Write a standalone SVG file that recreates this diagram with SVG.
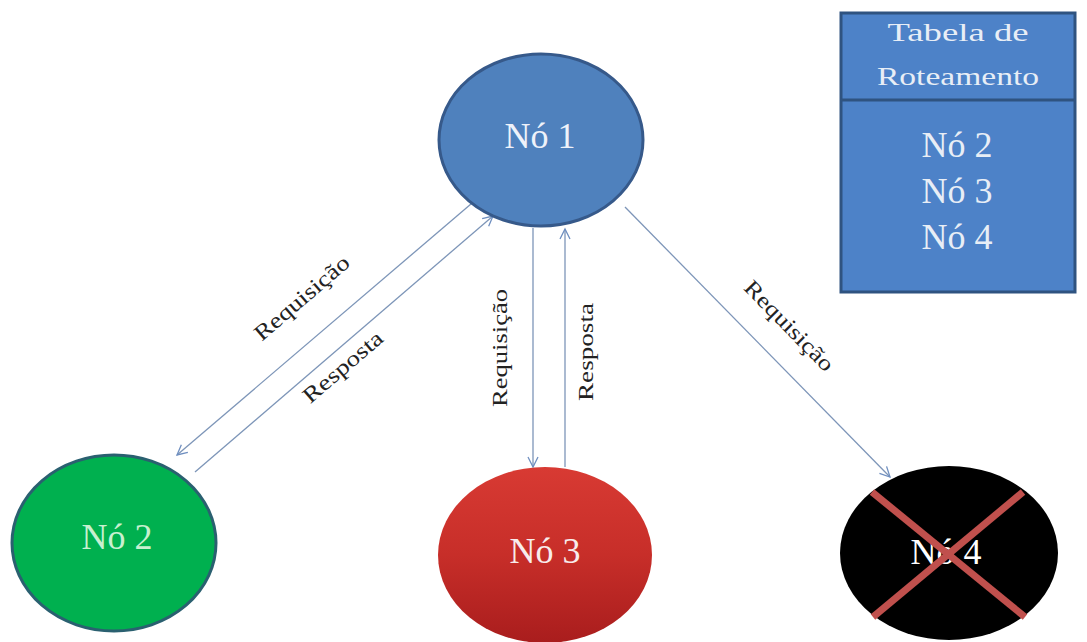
<svg xmlns="http://www.w3.org/2000/svg" width="1087" height="642" viewBox="0 0 1087 642">
<defs>
<style>
.lbl{font-family:"Liberation Serif",serif;font-size:22px;fill:#222;text-anchor:middle}
.nt{font-family:"Liberation Serif",serif;font-size:36px;text-anchor:middle}
.tt{font-family:"Liberation Serif",serif;font-size:25px;fill:#e8eef6;text-anchor:middle}
.conn{stroke:#7d95b8;stroke-width:1.3;fill:none;marker-end:url(#arr)}
</style>
<marker id="arr" markerUnits="userSpaceOnUse" markerWidth="14" markerHeight="14" refX="11" refY="6" orient="auto">
<path d="M1,1 L11,6 L1,11" fill="none" stroke="#6f8fc0" stroke-width="1.3"/>
</marker>
<linearGradient id="red" x1="0" y1="0" x2="0" y2="1">
<stop offset="0" stop-color="#d83a33"/>
<stop offset="0.5" stop-color="#c72e29"/>
<stop offset="1" stop-color="#a91d1d"/>
</linearGradient>
</defs>
<rect width="1087" height="642" fill="#ffffff"/>

<g id="connectors">
<line class="conn" x1="478" y1="198" x2="177" y2="455"/>
<line class="conn" x1="195" y1="472" x2="493" y2="216"/>
<line class="conn" x1="533" y1="228" x2="533" y2="467"/>
<line class="conn" x1="565" y1="467" x2="565" y2="229"/>
<line class="conn" x1="625" y1="207" x2="890" y2="477"/>
<text class="lbl" transform="translate(302,298) rotate(-40.6)" y="7" textLength="118" lengthAdjust="spacingAndGlyphs">Requisição</text>
<text class="lbl" transform="translate(343,367) rotate(-40.6)" y="7" textLength="98" lengthAdjust="spacingAndGlyphs">Resposta</text>
<text class="lbl" transform="translate(499,348) rotate(-90)" y="8" textLength="118" lengthAdjust="spacingAndGlyphs">Requisição</text>
<text class="lbl" transform="translate(585,352) rotate(-90)" y="8" textLength="98" lengthAdjust="spacingAndGlyphs">Resposta</text>
<text class="lbl" transform="translate(789,326) rotate(45.5)" y="7" textLength="118" lengthAdjust="spacingAndGlyphs">Requisição</text>
</g>

<g id="node1">
<ellipse cx="541" cy="140" rx="102" ry="86" fill="#4f81bd" stroke="#36598a" stroke-width="3"/>
<text class="nt" x="540" y="148" fill="#eef2fa">Nó 1</text>
</g>

<g id="node2">
<ellipse cx="114" cy="543" rx="102" ry="88" fill="#00b04f" stroke="#2a6070" stroke-width="3"/>
<text class="nt" x="117" y="549" fill="#c8f0d0">Nó 2</text>
</g>

<g id="node3">
<ellipse cx="545" cy="555" rx="107" ry="88" fill="url(#red)"/>
<text class="nt" x="545" y="563" fill="#f8ecec">Nó 3</text>
</g>

<g id="node4">
<ellipse cx="949" cy="553" rx="109" ry="87" fill="#000000"/>
<text class="nt" x="946" y="564" fill="#ffffff">Nó 4</text>
<line x1="872" y1="492" x2="1025" y2="617" stroke="#c0504d" stroke-width="7"/>
<line x1="1023" y1="492" x2="873" y2="617" stroke="#c0504d" stroke-width="7"/>
</g>

<g id="table">
<rect x="841" y="13" width="234" height="279" fill="#4d82c8" stroke="#2f5380" stroke-width="3"/>
<line x1="841" y1="100" x2="1075" y2="100" stroke="#2f5380" stroke-width="3"/>
<text class="tt" x="958" y="41" textLength="141" lengthAdjust="spacingAndGlyphs">Tabela de</text>
<text class="tt" x="958" y="85" textLength="162" lengthAdjust="spacingAndGlyphs">Roteamento</text>
<text class="nt" x="957" y="157" fill="#e8eef6">Nó 2</text>
<text class="nt" x="957" y="203" fill="#e8eef6">Nó 3</text>
<text class="nt" x="957" y="249" fill="#e8eef6">Nó 4</text>
</g>
</svg>
